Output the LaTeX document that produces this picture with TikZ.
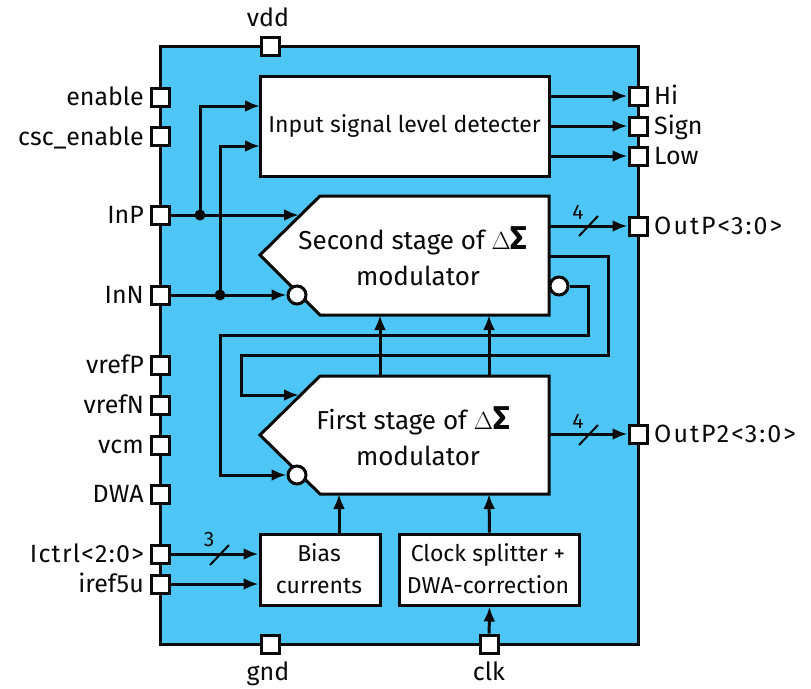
\documentclass[tikz,border=0pt]{standalone}
\usepackage{fontspec}
\setmainfont{Fira Sans}
\usetikzlibrary{arrows.meta}
\definecolor{chip}{HTML}{4DC6F6}
\definecolor{ink}{HTML}{0A0A0A}
\newcommand{\dsig}{{\fontsize{33}{33}\selectfont$\Delta${\bfseries Σ}}}
\tikzset{
  wire/.style={draw=ink,line width=3pt,line join=miter},
  arr/.style={wire,-{Latex[length=15pt,width=12pt]}},
  pinbox/.style={draw=ink,fill=white,line width=3pt,minimum size=18pt,inner sep=0pt},
  blockbox/.style={draw=ink,fill=white,line width=3pt,inner sep=0pt,align=center},
  txt/.style={text=ink,font=\fontsize{25}{26}\selectfont,inner sep=0pt},
  small/.style={text=ink,font=\fontsize{23}{31.5}\selectfont,inner sep=0pt,align=center},
  big/.style={text=ink,font=\fontsize{26}{36}\selectfont,inner sep=0pt,align=center},
  bubble/.style={circle,draw=ink,fill=white,line width=3pt,minimum size=18pt,inner sep=0pt},
  dotn/.style={circle,fill=ink,minimum size=11pt,inner sep=0pt},
  slash/.style={draw=ink,line width=2pt},
  num/.style={text=ink,font=\fontsize{21}{21}\selectfont,inner sep=0pt},
}
\begin{document}
\begin{tikzpicture}[x=1pt,y=-1pt]
\useasboundingbox (0,0) rectangle (811,688);
\fill[white] (0,0) rectangle (811,688);
\draw[draw=ink,fill=chip,line width=3pt] (160,46) rectangle (638,644);

% pins
\node[pinbox] (vdd) at (270,46) {};
\node[pinbox] (enable) at (160,97) {};
\node[pinbox] (csc) at (160,136) {};
\node[pinbox] (inp) at (160,215) {};
\node[pinbox] (inn) at (160,295) {};
\node[pinbox] (vrefp) at (160,365) {};
\node[pinbox] (vrefn) at (160,405) {};
\node[pinbox] (vcm) at (160,445) {};
\node[pinbox] (dwa) at (160,494) {};
\node[pinbox] (ictrl) at (160,554) {};
\node[pinbox] (iref) at (160,584) {};
\node[pinbox] (gnd) at (270,644) {};
\node[pinbox] (clk) at (489,644) {};
\node[pinbox] (hi) at (638,96) {};
\node[pinbox] (sign) at (638,126) {};
\node[pinbox] (low) at (638,156) {};
\node[pinbox] (outp) at (638,226) {};
\node[pinbox] (outp2) at (638,434) {};

% pin labels
\node[txt,anchor=base] (lvdd) at (268,27) {vdd};
\node[txt,anchor=base east] (lenable) at (144,105) {enable};
\node[txt,anchor=base east] (lcsc) at (144,145) {csc\_enable};
\node[txt,anchor=base east] (linp) at (144,223) {InP};
\node[txt,anchor=base east] (linn) at (144,303) {InN};
\node[txt,anchor=base east] (lvrefp) at (144,373) {vrefP};
\node[txt,anchor=base east] (lvrefn) at (144,413) {vrefN};
\node[txt,anchor=base east] (lvcm) at (144,453) {vcm};
\node[txt,anchor=base east] (ldwa) at (144,502) {DWA};
\node[txt,anchor=base east] (lictrl) at (144,562) {\addfontfeatures{LetterSpace=5}Ictrl<2:0>};
\node[txt,anchor=base east] (liref) at (144,592) {iref5u};
\node[txt,anchor=base] (lgnd) at (268,680) {gnd};
\node[txt,anchor=base] (lclk) at (489,680) {clk};
\node[txt,anchor=base west] (lhi) at (654,104) {Hi};
\node[txt,anchor=base west] (lsign) at (654,134) {Sign};
\node[txt,anchor=base west] (llow) at (654,164) {Low};
\node[txt,anchor=base west] (loutp) at (654,234) {\addfontfeatures{LetterSpace=8}OutP<3:0>};
\node[txt,anchor=base west] (loutp2) at (654,442) {\addfontfeatures{LetterSpace=8}OutP2<3:0>};

% anchor coordinates
\coordinate (detA) at (260,106);
\coordinate (detB) at (260,146);
\coordinate (sInP) at (299,215);
\coordinate (fInP) at (299,395);
\coordinate (sOut) at (549,226);
\coordinate (sFb) at (549,256);
\coordinate (fOut) at (549,434);
\coordinate (s1) at (380,315);
\coordinate (s2) at (489,315);
\coordinate (f1) at (380,376);
\coordinate (f2) at (489,376);
\coordinate (fb1) at (339,494);
\coordinate (fb2) at (489,494);

% blocks
\node[blockbox,minimum width=289pt,minimum height=100pt,font=\fontsize{23}{24}\selectfont,text=ink] (det) at (404.5,126) {Input signal level detecter};
\draw[draw=ink,fill=white,line width=3pt,line join=miter] (320,196) -- (549,196) -- (549,315) -- (320,315) -- (260,255) -- cycle;
\draw[draw=ink,fill=white,line width=3pt,line join=miter] (320,376) -- (549,376) -- (549,494) -- (320,494) -- (260,435) -- cycle;
\node[big] (stxt) at (413,256) {Second stage of \dsig\\\hspace*{10pt}modulator};
\node[big] (ftxt) at (413,436) {First stage of \dsig\\\hspace*{10pt}modulator};
\node[blockbox,minimum width=120pt,minimum height=71pt] (bias) at (320,569.5) {};
\node[small] (biastxt) at (319,568.5) {Bias\\currents};
\node[blockbox,minimum width=180pt,minimum height=71pt] (clock) at (489.5,569.5) {};
\node[small] (clocktxt) at (488,568.5) {Clock splitter +\\DWA-correction};

\node[bubble] (b1) at (297,295) {};
\node[bubble] (b2) at (297,475) {};
\node[bubble] (b3) at (559,286) {};

% connectors
\node[dotn] (d1) at (200,215) {};
\node[dotn] (d2) at (220,295) {};
\draw[arr] (inp) -- (sInP);
\draw[arr] (inn) -- (b1);
\draw[arr] (d1.center) |- (detA);
\draw[arr] (d2.center) |- (detB);
\draw[arr] (det.east |- hi) -- (hi);
\draw[arr] (det.east |- sign) -- (sign);
\draw[arr] (det.east |- low) -- (low);
\draw[arr] (sOut) -- (outp);
\draw[arr] (fOut) -- (outp2);
\draw[arr] (sFb) -- (608,256) -- (608,355) -- (241,355) -- (241,395) -- (fInP);
\draw[arr] (b3) -- (588,286) -- (588,335) -- (220,335) -- (220,475) -- (b2);
\draw[arr] (f1) -- (s1);
\draw[arr] (f2) -- (s2);
\draw[arr] (bias.north -| fb1) -- (fb1);
\draw[arr] (clock.north) -- (fb2);
\draw[arr] (clk) -- (clock.south);
\draw[arr] (ictrl) -- (bias.west |- ictrl);
\draw[arr] (iref) -- (bias.west |- iref);

% bus marks
\draw[slash] (579,236) -- (598,216);
\draw[slash] (579,445) -- (598,425);
\draw[slash] (210,565) -- (229,545);
\node[num] (n1) at (578,212) {4};
\node[num] (n2) at (578,421) {4};
\node[num] (n3) at (209,539) {3};
\end{tikzpicture}
\end{document}
